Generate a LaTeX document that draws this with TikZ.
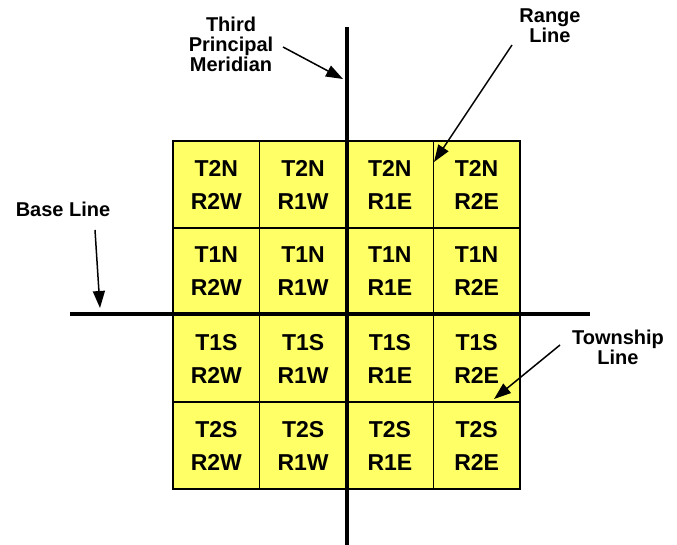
\documentclass[tikz,border=0pt]{standalone}
\usepackage{fontspec}
\setmainfont{Liberation Sans}
\usetikzlibrary{arrows.meta}
\definecolor{cellyellow}{RGB}{255,255,102}
\begin{document}
\begin{tikzpicture}[x=1pt,y=-1pt,
  cell/.style={draw=black,line width=1.3pt,fill=cellyellow,minimum width=86.75pt,minimum height=87pt,inner sep=0pt,
    font=\fontsize{23}{33}\selectfont\bfseries,align=center},
  axis/.style={line width=4pt,line cap=butt},
  lbl/.style={font=\fontsize{20}{20}\selectfont\bfseries,align=center,inner sep=0pt},
  pointer/.style={line width=1.5pt,-{Triangle[length=17pt,width=12pt]}}]
\useasboundingbox (0,0) rectangle (677,545);
% cells
\foreach \t [count=\j from 0] in {T2N,T1N,T1S,T2S}{
  \foreach \r [count=\i from 0] in {R2W,R1W,R1E,R2E}{
    \node[cell] (c\j\i) at ({173+86.75*(\i+0.5)},{141+87*(\j+0.5)}) {\t\\\r};
  }
}
% axes
\coordinate (mtop) at (347,27);
\coordinate (mbot) at (347,545);
\coordinate (bl) at (70,314);
\coordinate (br) at (590,314);
\draw[axis] (mtop) -- (mbot);
\draw[axis] (bl) -- (br);
% labels
\node[lbl] (tpm) at (231,44) {Third\\Principal\\Meridian};
\node[lbl] (rl) at (550,26) {Range\\Line};
\node[lbl] (bsl) at (63,209) {Base Line};
\node[lbl] (tl) at (618,347) {Township\\Line};
% pointers
\coordinate (p1s) at (283,47); \coordinate (p1e) at (343,79);
\coordinate (p2s) at (512,45); \coordinate (p2e) at (434,162);
\coordinate (p3s) at (95,230); \coordinate (p3e) at (100,308);
\coordinate (p4s) at (560,345); \coordinate (p4e) at (494,399);
\draw[pointer] (p1s) -- (p1e);
\draw[pointer] (p2s) -- (p2e);
\draw[pointer] (p3s) -- (p3e);
\draw[pointer] (p4s) -- (p4e);
\end{tikzpicture}
\end{document}
